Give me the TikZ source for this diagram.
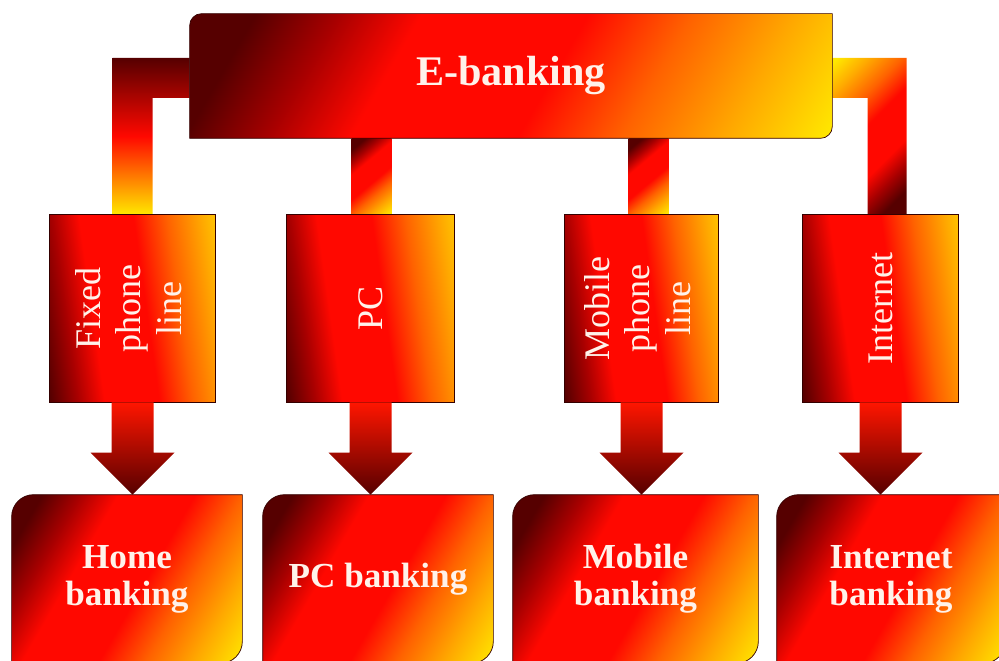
\documentclass[tikz,border=0pt]{standalone}
\usepackage{fontspec}
\setmainfont{Liberation Serif}
\usepackage{graphicx}
\usetikzlibrary{calc, backgrounds}

\definecolor{emberdark}{HTML}{560000}
\definecolor{emberdeep}{HTML}{A80000}
\definecolor{emberred}{HTML}{FF0800}
\definecolor{emberorange}{HTML}{FF6200}
\definecolor{embergold}{HTML}{FFA800}
\definecolor{emberyellow}{HTML}{FFE800}
\definecolor{paletext}{HTML}{FFF2EA}

\pgfdeclarehorizontalshading{ember}{100bp}{color(0bp)=(emberdark); color(22bp)=(emberdark); color(30bp)=(emberdeep); color(38bp)=(emberred); color(54bp)=(emberred); color(64bp)=(emberorange); color(74bp)=(embergold); color(84bp)=(emberyellow); color(100bp)=(emberyellow)}

\begin{document}
\begin{tikzpicture}[x=0.2mm, y=-0.2mm,
    hub/.style={text=paletext, font=\bfseries\fontsize{24}{26}\selectfont,
      minimum width=128.4mm, minimum height=24.8mm},
    channel/.style={text=paletext, font=\fontsize{20.5}{23}\selectfont,
      minimum height=37.4mm},
    service/.style={text=paletext, font=\bfseries\fontsize{20}{21}\selectfont,
      align=center, minimum height=33.6mm},
    wire/.style={shading=ember},
    fat arrow/.style={top color=emberred!85!emberorange, bottom color=emberdark}]
    \useasboundingbox (0,0) rectangle (999,661);

    % top
    \node[hub] (ebank) at (511,76) {E-banking};

    % channels
    \node[channel, minimum width=33mm] (fixed) at (132.5,308.5)
        {\rotatebox{90}{\begin{tabular}{@{}c@{}}Fixed\\phone\\line\end{tabular}}};
    \node[channel, minimum width=33.4mm] (pc) at (370.5,308.5) {\rotatebox{90}{PC}};
    \node[channel, minimum width=30.6mm] (mobile) at (641.5,308.5)
        {\rotatebox{90}{\begin{tabular}{@{}c@{}}Mobile\\phone\\line\end{tabular}}};
    \node[channel, minimum width=31mm] (internet) at (880.5,308.5) {\rotatebox{90}{Internet}};

    % services
    \node[service, minimum width=46mm] (home) at (127,579) {Home\\banking};
    \node[service, minimum width=46mm] (pcbank) at (378,579) {PC banking};
    \node[service, minimum width=49mm] (mobbank) at (635.5,579) {Mobile\\banking};
    \node[service, minimum width=45.6mm] (netbank) at (891,579) {Internet\\banking};

    \begin{scope}[on background layer]
        % links from the top box
        \shade[top color=emberdark, bottom color=emberyellow, middle color=emberred]
            ($(ebank.west)+(0,-18)$) -| ($(fixed.north)+(-20,0)$)
            -- ($(fixed.north)+(20,0)$) |- ($(ebank.west)+(0,22)$) -- cycle;
        \shade[wire, shading angle=135]
            ($(ebank.east)+(0,-18)$) -| ($(internet.north)+(26,0)$)
            -- ($(internet.north)+(-13,0)$) |- ($(ebank.east)+(0,22)$) -- cycle;
        \shade[wire, shading angle=-50]
            ($(ebank.south -| pc.north)+(-19,0)$) rectangle ($(pc.north)+(21,0)$);
        \shade[wire, shading angle=-50]
            ($(ebank.south -| mobile.north)+(-13,0)$) rectangle ($(mobile.north)+(27,0)$);

        % boxes with two round corners
        \foreach \n/\r in {ebank/12, home/22, pcbank/22, mobbank/22, netbank/22} {
            \shade[shading=ember, shading angle=-30, draw=emberdark!60!black, line width=0.4pt]
                (\n.south west) -- ($(\n.north west)+(0,\r)$)
                arc[start angle=180, end angle=270, radius=\r]
                -- (\n.north east) -- ($(\n.south east)+(0,-\r)$)
                arc[start angle=0, end angle=90, radius=\r] -- cycle;
        }
        \foreach \n in {fixed, pc, mobile, internet}
            \shade[shading=ember, shading angle=8, draw=emberdark!60!black, line width=0.4pt]
                (\n.south west) rectangle (\n.north east);

        % block arrows down to the services
        \foreach \a/\b in {fixed/home, pc/pcbank, mobile/mobbank, internet/netbank}
            \shade[fat arrow]
                ($(\a.south)+(-21,0)$) -- ($(\a.south |- \b.north)+(-21,-42)$)
                -- ($(\a.south |- \b.north)+(-42,-42)$) -- (\a.south |- \b.north)
                -- ($(\a.south |- \b.north)+(42,-42)$) -- ($(\a.south |- \b.north)+(21,-42)$)
                -- ($(\a.south)+(21,0)$) -- cycle;
    \end{scope}
\end{tikzpicture}
\end{document}
